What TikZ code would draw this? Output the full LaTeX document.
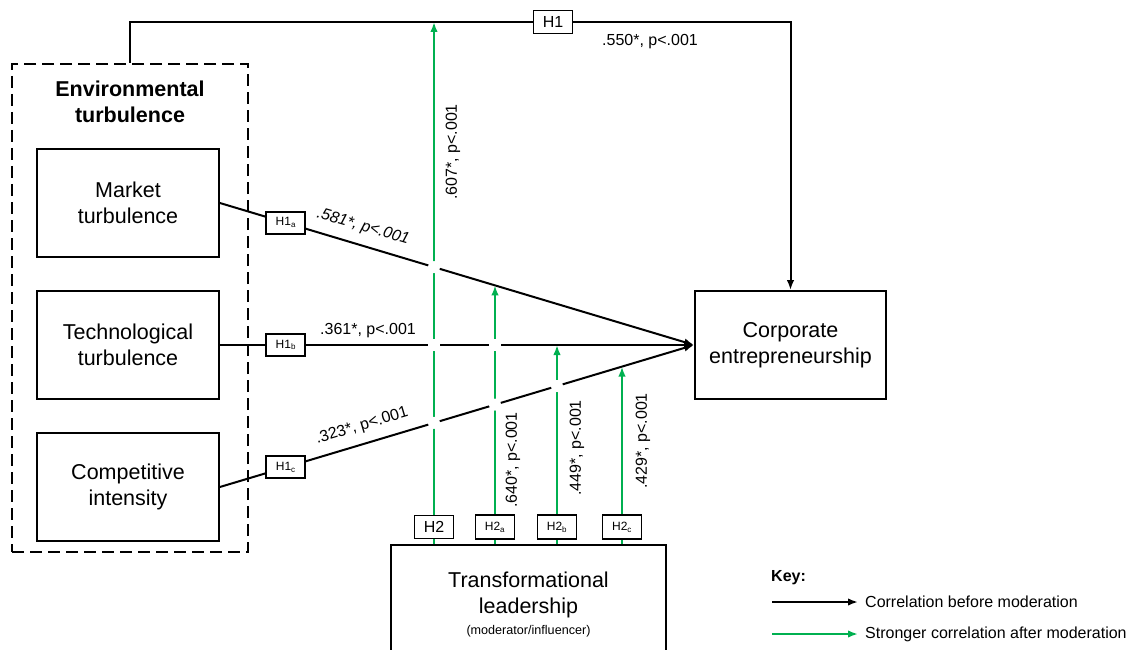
\documentclass[tikz,border=0pt]{standalone}
\usepackage{fontspec}
\setmainfont{Liberation Sans}
\usetikzlibrary{arrows.meta,intersections}
\definecolor{modgreen}{RGB}{0,176,80}
\tikzset{
  box/.style={draw, line width=1.8pt, minimum width=182, minimum height=108,
    align=center, font=\fontsize{21.5}{26}\selectfont},
  hbox/.style={draw, line width=1.8pt, fill=white, minimum width=39,
    minimum height=23, inner sep=0pt, font=\fontsize{16}{18}\selectfont},
  hsub/.style={hbox, minimum height=22, font=\fontsize{12}{14}\selectfont},
  plain/.style={line width=2pt},
  blk/.style={line width=2pt, -{Latex[length=10pt,width=7.5pt]}},
  grn/.style={line width=2pt, modgreen, -{Latex[length=10pt,width=7.5pt]}},
  lbl/.style={inner sep=0pt, font=\fontsize{16}{18}\selectfont},
}
\begin{document}
\begin{tikzpicture}[x=1pt,y=-1pt]
\useasboundingbox (0,0) rectangle (1138,650);
\clip (0,0) rectangle (1138,650);
% environmental turbulence
\node[draw, line width=2pt, dash pattern=on 12pt off 6pt, minimum width=236,
  minimum height=488] (env) at (130,308) {};
\node[align=center, font=\fontsize{21.5}{26}\selectfont\bfseries] (envt) at (130,102) {Environmental\\turbulence};
\node[box] (mkt) at (128,203) {Market\\turbulence};
\node[box] (tech) at (128,345) {Technological\\turbulence};
\node[box] (comp) at (128,487) {Competitive\\intensity};
\node[box, minimum width=191] (corp) at (790.5,345) {Corporate\\entrepreneurship};
\node[box, minimum width=275, minimum height=120] (lead) at (528.5,605)
  {Transformational\\leadership\\[-5pt]{\fontsize{12.6}{15}\selectfont(moderator/influencer)}};
% H1
\node[hbox] (h1) at (553,22) {H1};
\draw[plain] (env.north) |- (h1.west);
\draw[blk] (h1.east) -| (corp.north);
\node[lbl] (l550) at (650,42) {.550*, p<.001};
% H1a - H1c
\draw[blk, name path=mline] (mkt.east) -- node[hsub, pos=.139] (h1a) {H1\textsubscript{a}} (corp.west);
\draw[blk, name path=tline] (tech.east) -- node[hsub, pos=.139] (h1b) {H1\textsubscript{b}} (corp.west);
\draw[blk, name path=cline] (comp.east) -- node[hsub, pos=.139] (h1c) {H1\textsubscript{c}} (corp.west);
% H2 (moderation)
\node[hbox] (h2) at (434,527) {H2};
\node[hsub, minimum height=24] (h2a) at (495,527) {H2\textsubscript{a}};
\node[hsub, minimum height=24] (h2b) at (557,527) {H2\textsubscript{b}};
\node[hsub, minimum height=24] (h2c) at (622,527) {H2\textsubscript{c}};
\foreach \h in {h2,h2a,h2b,h2c}
  \draw[plain, modgreen] (\h |- lead.north) -- (\h.south);
\path[name path=va] (h2a.north) -- ++(0,-300);
\path[name path=vc] (h2c.north) -- ++(0,-300);
\path[name intersections={of=va and mline, by=ea}];
\path[name intersections={of=vc and cline, by=ec}];
\draw[grn, name path=gv0] (h2.north) -- (h2 |- h1);
\draw[grn, name path=gva] (h2a.north) -- (ea);
\draw[grn, name path=gvb] (h2b.north) -- (h2b |- corp.west);
\draw[grn] (h2c.north) -- (ec);
% gaps where lines cross
\foreach \g/\b in {gv0/mline,gv0/tline,gv0/cline,gva/tline,gva/cline,gvb/cline}
  \fill[white, name intersections={of={\g} and {\b}}] (intersection-1) circle (6);
% coefficients
\node[lbl, rotate=-16.4] (l581) at (363,227) {\itshape .581*, p<.001};
\node[lbl] (l361) at (368,331) {.361*, p<.001};
\node[lbl, rotate=16.6] (l323) at (362,426) {.323*, p<.001};
\node[lbl, rotate=90] (l607) at (453,152) {.607*, p<.001};
\node[lbl, rotate=90] (l640) at (513,460) {.640*, p<.001};
\node[lbl, rotate=90] (l449) at (577,448) {.449*, p<.001};
\node[lbl, rotate=90] (l429) at (643,441) {.429*, p<.001};
% key
\node[anchor=west, inner sep=0pt, font=\fontsize{16}{18}\selectfont\bfseries] (key) at (771,578) {Key:};
\node[lbl, anchor=west] (kt1) at (865,602) {Correlation before moderation};
\node[lbl, anchor=west] (kt2) at (865,634) {Stronger correlation after moderation};
\coordinate (k1) at (772,602);
\coordinate (k2) at (772,634);
\draw[blk, shorten >=7pt] (k1) -- (kt1.west);
\draw[grn, shorten >=7pt] (k2) -- (kt2.west);
\end{tikzpicture}
\end{document}
